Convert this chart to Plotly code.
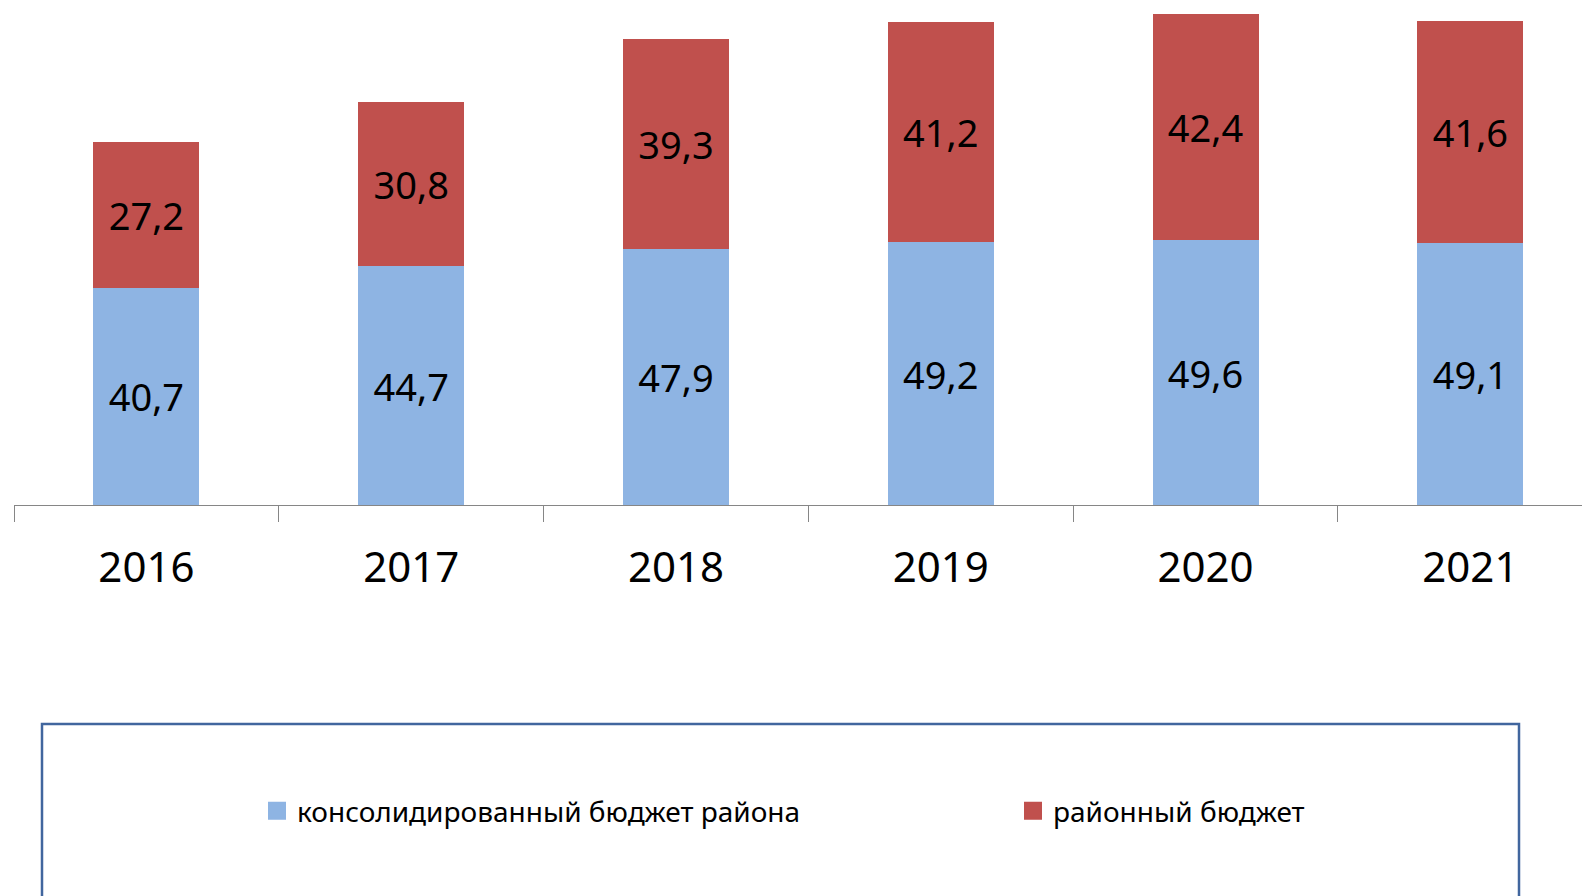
import plotly.graph_objects as go

years = ["2016", "2017", "2018", "2019", "2020", "2021"]
consolidated = [40.7, 44.7, 47.9, 49.2, 49.6, 49.1]
district = [27.2, 30.8, 39.3, 41.2, 42.4, 41.6]
series_names = ["консолидированный бюджет района", "районный бюджет"]
colors = ["#8EB4E3", "#C0504D"]

FONT = "Noto Sans"
W, H = 1590, 896
L = 6
AXIS_Y = 497          # pixel row of the category axis (figure coords)
B = H - AXIS_Y
PW = W - L


def px_x(px):
    return (px - L) / PW


def px_y(py):
    return (AXIS_Y - py) / AXIS_Y


fig = go.Figure()
for vals, name, col in zip([consolidated, district], series_names, colors):
    fig.add_trace(go.Bar(
        x=years, y=vals, name=name, showlegend=False,
        marker=dict(color=col, line=dict(width=0)),
        texttemplate="%{y:.1f}", textposition="inside",
        insidetextanchor="middle", textangle=0, constraintext="none",
        textfont=dict(family=FONT, size=38, color="black"),
        hoverinfo="skip",
    ))
# legend entries with larger square symbols, each in its own legend box
for i, (name, col) in enumerate(zip(series_names, colors)):
    fig.add_trace(go.Scatter(
        x=[None], y=[None], mode="markers", name=name,
        marker=dict(symbol="square", size=16, color=col,
                    line=dict(color=col, width=2)),
        legend="legend" if i == 0 else "legend2",
    ))

legend_common = dict(
    orientation="h", yanchor="middle", xanchor="left",
    font=dict(family=FONT, size=28, color="black"),
    bgcolor="rgba(0,0,0,0)", borderwidth=0,
)

fig.update_layout(
    width=W, height=H,
    margin=dict(l=L, r=0, t=0, b=B, pad=0),
    barmode="stack", bargap=0.6,
    separators=", ",
    plot_bgcolor="white", paper_bgcolor="white",
    font=dict(family=FONT, color="black"),
    xaxis=dict(
        type="category", range=[-0.5, 5.482],
        showline=True, linecolor="#868686", linewidth=1,
        ticks="outside", ticklen=16, tickcolor="#868686", tickwidth=1,
        tickson="boundaries", showgrid=False, zeroline=False,
        tickfont=dict(family=FONT, size=42, color="black"),
        ticklabelstandoff=26,
    ),
    yaxis=dict(range=[0, AXIS_Y / 5.34], visible=False, showgrid=False, zeroline=False),
    legend=dict(legend_common, x=px_x(249), y=px_y(803)),
    legend2=dict(legend_common, x=px_x(1005), y=px_y(803)),
    shapes=[dict(
        type="rect", xref="paper", yref="paper",
        x0=px_x(34), x1=px_x(1511),
        y0=px_y(716), y1=px_y(1000),
        line=dict(color="#41669E", width=2.5), fillcolor="rgba(0,0,0,0)",
        layer="above",
    )],
)

fig.write_html("out.html")
